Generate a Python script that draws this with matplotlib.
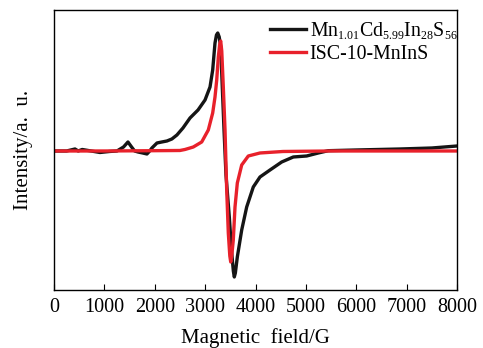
import matplotlib
matplotlib.use('Agg')
import matplotlib.pyplot as plt
import matplotlib._mathtext as mathtext_impl

plt.rcParams['font.family'] = ['Liberation Serif', 'DejaVu Serif']
plt.rcParams['mathtext.fontset'] = 'custom'
plt.rcParams['mathtext.rm'] = 'Liberation Serif'
plt.rcParams['mathtext.it'] = 'Liberation Serif:italic'
# smaller subscripts in the composition label
mathtext_impl.SHRINK_FACTOR = 0.6

# EPR spectra, intensity in arbitrary units
field_mn = [0, 250, 417, 480, 560, 913, 1100, 1250, 1380, 1468, 1540, 1600, 1667, 1760,
            1845, 1900, 1944, 2044, 2140, 2242, 2340, 2440, 2560, 2700, 2859, 2998,
            3097, 3150, 3196, 3225, 3250, 3280, 3309, 3335, 3375, 3414, 3480, 3528,
            3560, 3579, 3600, 3639, 3726, 3825, 3956, 4089, 4288, 4520, 4750, 5016,
            5247, 5445, 6000, 6869, 7500, 8000]
int_mn = [0, 0, 2, 0, 1.5, -1.5, -0.5, 0, 4, 9, 4, 0, -1, -2,
          -3, 0, 3, 8, 9, 10, 12, 16, 23, 33, 41, 51,
          64, 81, 108, 116, 118, 114, 104, 71, 21, -24, -66, -102,
          -120, -126, -122, -106, -79, -56, -36, -26, -19, -11, -6, -5,
          -2, 0.3, 1, 2, 3, 5]

field_isc = [0, 1000, 2000, 2500, 2600, 2700, 2765, 2932, 3063, 3150, 3196, 3230,
             3262, 3290, 3309, 3330, 3361, 3395, 3428, 3460, 3490, 3508, 3530, 3559,
             3593, 3639, 3726, 3857, 4089, 4546, 5500, 6500, 8000]
int_isc = [0, 0, 0.3, 0.5, 1.5, 3, 4, 9, 21, 38, 54, 71,
           94, 107, 110, 100, 64, 21, -39, -82, -105, -111, -104, -89,
           -56, -32, -14, -5, -2, -0.5, 0, 0, 0]

fig = plt.figure(figsize=(4.83, 3.48), dpi=100)
ax = fig.add_axes([0.1118, 0.1667, 0.8344, 0.8046])

ax.plot(field_mn, int_mn, color='#151515', lw=2.4, solid_joinstyle='round',
        label=r'$\mathrm{Mn_{1.01}Cd_{5.99}In_{28}S_{56}}$')
ax.plot(field_isc, int_isc, color='#e8212b', lw=2.4, solid_joinstyle='round',
        label='ISC-10-MnInS')

ax.set_xlim(0, 8000)
ax.set_ylim(-139, 141)
ax.set_xticks(range(0, 8001, 1000))
ax.set_yticks([])
ax.tick_params(axis='x', direction='in', length=4, labelsize=14.5, pad=6)
for s in ax.spines.values():
    s.set_linewidth(1.0)

ax.set_xlabel('Magnetic  field/G', fontsize=15, labelpad=8)
ax.set_ylabel('Intensity/a.  u.', fontsize=15, labelpad=15)

ax.legend(loc='upper left', frameon=False, fontsize=14.3, handlelength=1.8,
          handletextpad=0.2, labelspacing=0.2, borderpad=0, borderaxespad=0,
          bbox_to_anchor=(0.536, 0.965))

fig.savefig('out.png', dpi=100)
